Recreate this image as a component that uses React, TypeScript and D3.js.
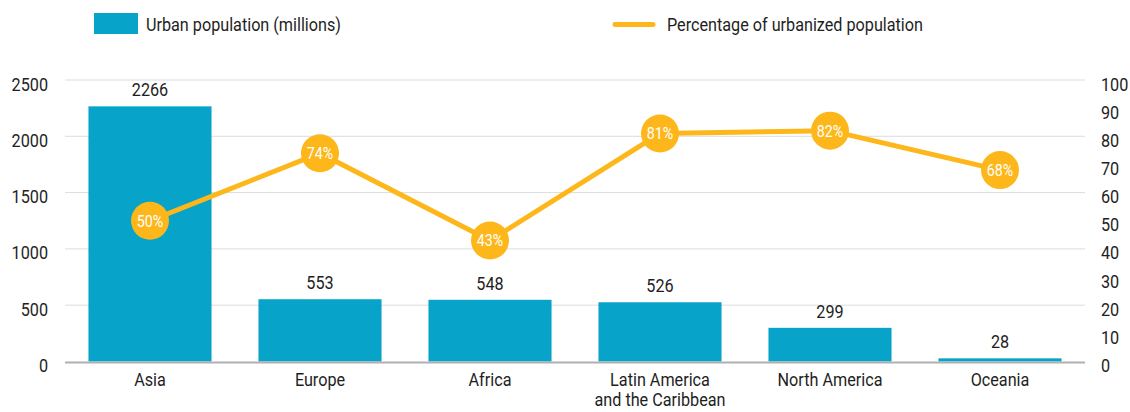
import React from "react";
import * as d3 from "d3";

const categories: string[][] = [
  ["Asia"],
  ["Europe"],
  ["Africa"],
  ["Latin America", "and the Caribbean"],
  ["North America"],
  ["Oceania"],
];
const urbanPopulation = [2266, 553, 548, 526, 299, 28];
const urbanizedPct = [50, 74, 43, 81, 82, 68];
const leftTicks = [0, 500, 1000, 1500, 2000, 2500];
const rightTicks = [0, 10, 20, 30, 40, 50, 60, 70, 80, 90, 100];
const legendLabels = ["Urban population (millions)", "Percentage of urbanized population"];

const W = 1130;
const H = 412;
const BAR = "#08a3c9";
const LINE = "#fdb71b";
const TEXT = "#1e1e1e";
const FONT = "Roboto, 'Liberation Sans', sans-serif";
const SX = 0.9;

function T(props: {
  x: number;
  y: number;
  anchor?: "start" | "middle" | "end";
  fill?: string;
  size?: number;
  sx?: number;
  children: React.ReactNode;
}) {
  const { x, y, anchor = "start", fill = TEXT, size = 18, sx = SX, children } = props;
  return (
    <text
      transform={`translate(${x},${y}) scale(${sx},1)`}
      fontSize={size}
      fill={fill}
      textAnchor={anchor}
    >
      {children}
    </text>
  );
}

export default function App() {
  const left = 65;
  const right = 1085;
  const top = 80;
  const bottom = 361.5;

  const x = d3
    .scaleBand<number>()
    .domain(d3.range(categories.length))
    .range([left, right])
    .paddingInner(0.276)
    .paddingOuter(0.138);
  const yL = d3.scaleLinear().domain([0, 2500]).range([bottom, top]);
  const yR = d3.scaleLinear().domain([0, 100]).range([bottom, top]);

  const cx = (i: number) => (x(i) as number) + x.bandwidth() / 2;
  const line = d3
    .line<number>()
    .x((_, i) => cx(i))
    .y((d) => yR(d));

  return (
    <svg width={W} height={H} style={{ display: "block", position: "absolute", left: 0, top: 0 }} fontFamily={FONT}>
      <rect width={W} height={H} fill="#fff" />
      {/* legend */}
      <rect x={94} y={13} width={44} height={21} fill={BAR} />
      <T x={146} y={30.5}>{legendLabels[0]}</T>
      <line x1={615} x2={653} y1={24.5} y2={24.5} stroke={LINE} strokeWidth={5} strokeLinecap="round" />
      <T x={667} y={30.5}>{legendLabels[1]}</T>

      {/* gridlines */}
      {leftTicks.slice(1).map((t) => (
        <line key={t} x1={left} x2={right} y1={yL(t)} y2={yL(t)} stroke="#dcdcdc" strokeWidth={1} />
      ))}
      {/* left axis labels */}
      {leftTicks.map((t) => (
        <T key={t} x={48} y={yL(t) + 10.5} anchor="end">{t}</T>
      ))}
      {/* right axis labels */}
      {rightTicks.map((t) => (
        <T key={t} x={1101} y={yR(t) + 10.5}>{t}</T>
      ))}

      {/* bars */}
      {urbanPopulation.map((v, i) => (
        <g key={i}>
          <rect x={x(i)} y={yL(v)} width={x.bandwidth()} height={bottom - yL(v)} fill={BAR} />
          <T x={cx(i)} y={yL(v) - 10} anchor="middle">{v}</T>
        </g>
      ))}

      {/* baseline */}
      <line x1={left} x2={right} y1={bottom + 1} y2={bottom + 1} stroke="#b0b0b0" strokeWidth={2} />

      {/* x labels */}
      {categories.map((c, i) =>
        c.map((l, j) => (
          <T key={`${i}-${j}`} x={cx(i)} y={386 + j * 20} anchor="middle">{l}</T>
        ))
      )}

      {/* line */}
      <path d={line(urbanizedPct) || ""} fill="none" stroke={LINE} strokeWidth={5} strokeLinejoin="round" />
      {urbanizedPct.map((v, i) => (
        <g key={i}>
          <circle cx={cx(i)} cy={yR(v)} r={19} fill={LINE} />
          <T x={cx(i)} y={yR(v) + 6} anchor="middle" fill="#fff" size={17} sx={0.84}>{v}%</T>
        </g>
      ))}
    </svg>
  );
}
